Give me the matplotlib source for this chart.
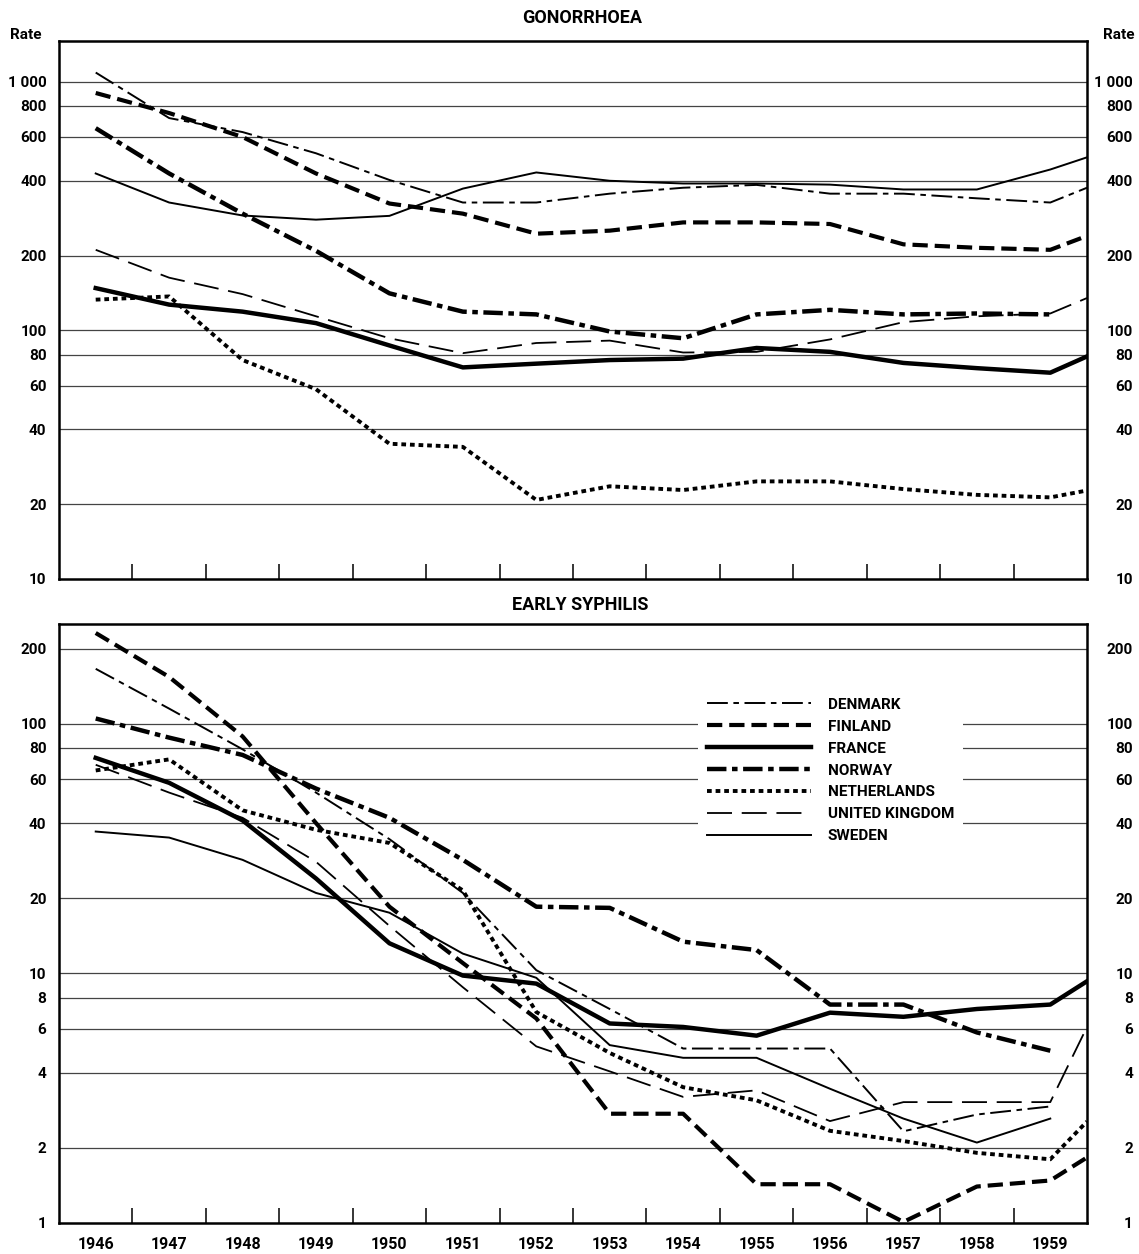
import numpy as np
import matplotlib
matplotlib.use('Agg')
import matplotlib.pyplot as plt
from matplotlib.ticker import FixedLocator, FixedFormatter, NullFormatter

plt.rcParams['font.family'] = ['Roboto', 'DejaVu Sans']
plt.rcParams['font.weight'] = 'bold'
plt.rcParams['lines.scale_dashes'] = False

# years; the last point sits on the right frame (half a year after 1959)
years = [1946, 1947, 1948, 1949, 1950, 1951, 1952, 1953, 1954, 1955, 1956,
         1957, 1958, 1959, 1959.5]
year_labels = [str(y) for y in range(1946, 1960)]
countries = ['DENMARK', 'FINLAND', 'FRANCE', 'NORWAY', 'NETHERLANDS',
             'UNITED KINGDOM', 'SWEDEN']
nan = np.nan

# gonorrhoea rates
gon_denmark = [1090, 715, 628, 516, 403, 327, 327, 355, 375, 385, 355, 355, 340, 327, 375]
gon_finland = [902, 749, 600, 428, 324, 295, 245, 252, 272, 272, 268, 222, 215, 211, 240]
gon_france = [148, 127, 119, 107, 87, 71, 73.5, 76, 77, 85, 82, 74, 70.5, 67.6, 78.6]
gon_norway = [651, 428, 295, 209, 141, 119, 116, 99, 93, 116, 121, 116, 117, 116, nan]
gon_netherlands = [133, 137, 76, 58, 35, 34, 20.8, 23.6, 22.8, 24.7, 24.7, 23, 21.8, 21.3, 22.7]
gon_uk = [211, 163, 140, 114, 93, 81, 89, 91, 81.5, 82, 92, 108, 114, 117, 135]
gon_sweden = [428, 327, 290, 279, 289, 372, 432, 400, 390, 390, 386, 369, 369, 444, 497]

# early syphilis rates
syp_denmark = [166, 115, 79, 53, 34.5, 21, 10.3, 7.2, 5.0, 5.0, 5.0, 2.33, 2.72, 2.93, nan]
syp_finland = [231, 154, 89, 40, 18.5, 11, 6.6, 2.74, 2.74, 1.43, 1.43, 1.01, 1.40, 1.48, 1.83]
syp_france = [73, 58, 41, 24, 13.2, 9.8, 9.1, 6.3, 6.1, 5.63, 6.96, 6.7, 7.2, 7.5, 9.3]
syp_norway = [105, 88, 75, 55, 42, 28.5, 18.5, 18.3, 13.4, 12.4, 7.5, 7.5, 5.8, 4.9, nan]
syp_netherlands = [65, 72, 45, 37.6, 33.3, 21.5, 7.0, 4.8, 3.5, 3.1, 2.34, 2.13, 1.91, 1.8, 2.55]
syp_uk = [68.5, 53, 42, 28, 15.5, 8.8, 5.1, 4.05, 3.2, 3.4, 2.56, 3.05, 3.05, 3.05, 6.1]
syp_sweden = [37, 35, 28.5, 21, 17.5, 12, 9.6, 5.16, 4.59, 4.59, 3.45, 2.62, 2.1, 2.62, nan]

gon_ticks = [10, 20, 40, 60, 80, 100, 200, 400, 600, 800, 1000]
gon_ticklabels = ['10', '20', '40', '60', '80', '100', '200', '400', '600', '800', '1 000']
syp_ticks = [1, 2, 4, 6, 8, 10, 20, 40, 60, 80, 100, 200]
syp_ticklabels = ['1', '2', '4', '6', '8', '10', '20', '40', '60', '80', '100', '200']

gon = [gon_denmark, gon_finland, gon_france, gon_norway, gon_netherlands, gon_uk, gon_sweden]
syp = [syp_denmark, syp_finland, syp_france, syp_norway, syp_netherlands, syp_uk, syp_sweden]

# line style per country: (linewidth, dashes)
styles = {
    'DENMARK': (1.4, (15, 4, 4, 4)),
    'FINLAND': (3.0, (11, 5)),
    'FRANCE': (3.2, None),
    'NORWAY': (3.2, (14, 4, 4, 4)),
    'NETHERLANDS': (2.8, (3.4, 2.8)),
    'UNITED KINGDOM': (1.3, (18, 7)),
    'SWEDEN': (1.4, None),
}

W, H = 1139, 1254
fig = plt.figure(figsize=(W / 100, H / 100), dpi=100)
ax1 = fig.add_axes([59 / W, 1 - 579 / H, 1028 / W, 538 / H])
ax2 = fig.add_axes([59 / W, 1 - 1223 / H, 1028 / W, 599 / H])


def draw(ax, data, ylim, ticks, ticklabels, grid):
    ax.set_yscale('log')
    ax.set_xlim(1945.5, 1959.5)
    ax.set_ylim(*ylim)
    for g in grid:
        ax.axhline(g, color='#444444', lw=0.9, zorder=1)
    for name, vals in zip(countries, data):
        lw, dash = styles[name]
        line, = ax.plot(years, vals, color='black', lw=lw, label=name, zorder=3,
                        solid_joinstyle='round')
        if dash:
            line.set_dashes(dash)
    for s in ax.spines.values():
        s.set_linewidth(1.8)
    ax.yaxis.set_major_locator(FixedLocator(ticks))
    ax.yaxis.set_major_formatter(FixedFormatter(ticklabels))
    ax.yaxis.set_minor_formatter(NullFormatter())
    ax.yaxis.set_minor_locator(FixedLocator([]))
    ax.tick_params(axis='y', length=0, pad=9, labelsize=11)
    for lab in ax.get_yticklabels():
        lab.set_fontweight('bold')
    ax.set_xticks(range(1946, 1960))
    ax.set_xticks(np.arange(1946.5, 1959, 1.0), minor=True)
    ax.tick_params(axis='x', which='major', length=0)
    ax.tick_params(axis='x', which='minor', direction='in', length=11, width=1.1)
    # right side labels
    axr = ax.twinx()
    axr.set_yscale('log')
    axr.set_ylim(*ylim)
    axr.yaxis.set_major_locator(FixedLocator(ticks))
    axr.yaxis.set_major_formatter(FixedFormatter(ticklabels))
    axr.yaxis.set_minor_locator(FixedLocator([]))
    axr.yaxis.set_minor_formatter(NullFormatter())
    axr.tick_params(axis='y', length=0, pad=33, labelsize=11)
    for lab in axr.get_yticklabels():
        lab.set_horizontalalignment('right')
        lab.set_fontweight('bold')
    for s in axr.spines.values():
        s.set_visible(False)


draw(ax1, gon, (10, 1460), gon_ticks, gon_ticklabels, gon_ticks[1:])
draw(ax2, syp, (1, 251), syp_ticks, syp_ticklabels, syp_ticks[1:])

ax1.set_xticklabels([])
ax2.set_xticklabels(year_labels, fontsize=11.5, fontweight='bold')
ax2.tick_params(axis='x', which='major', pad=10)

fig.text(582 / W, 1 - 18 / H, 'GONORRHOEA', ha='center', va='center', fontsize=13, fontweight='bold')
fig.text(580 / W, 1 - 605 / H, 'EARLY SYPHILIS', ha='center', va='center', fontsize=13, fontweight='bold')
fig.text(10 / W, 1 - 35 / H, 'Rate', ha='left', va='center', fontsize=11, fontweight='bold')
fig.text(1135 / W, 1 - 35 / H, 'Rate', ha='right', va='center', fontsize=11, fontweight='bold')

leg = ax2.legend(loc='upper left', bbox_to_anchor=(0.614, 0.905), frameon=True,
                 facecolor='white', edgecolor='none', framealpha=1, fancybox=False,
                 handlelength=6.8, handletextpad=1.1, labelspacing=0.52,
                 prop={'weight': 'bold', 'size': 11}, borderpad=0.6)
leg.set_zorder(5)

fig.savefig('out.png', dpi=100)
